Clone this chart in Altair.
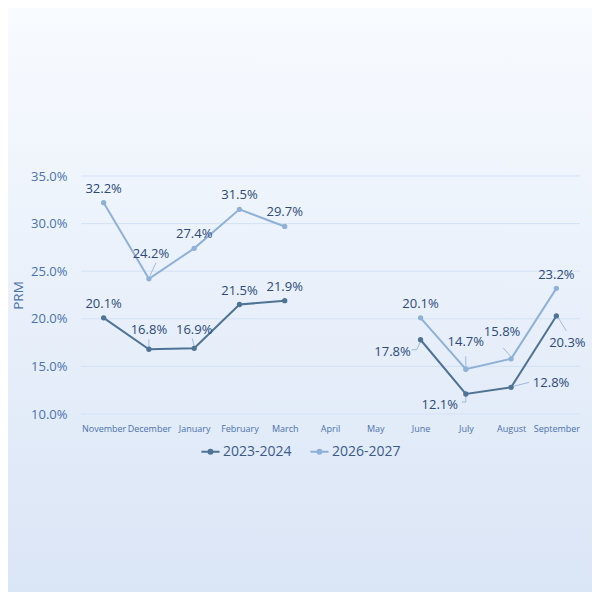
import altair as alt
import pandas as pd

months = ["November", "December", "January", "February", "March", "April",
          "May", "June", "July", "August", "September"]
series_names = ["2023-2024", "2026-2027"]
values_2023 = [20.1, 16.8, 16.9, 21.5, 21.9, None, None, 17.8, 12.1, 12.8, 20.3]
values_2026 = [32.2, 24.2, 27.4, 31.5, 29.7, None, None, 20.1, 14.7, 15.8, 23.2]
y_ticks = [10, 15, 20, 25, 30, 35]

# label placement (pixel offsets from the point)
label_dx_2023 = [0, 0, 0, 0, 0, 0, 0, -28, -26, 40, 11]
label_dy_2023 = [-14, -19, -18, -14, -14, 0, 0, 12, 11, -4, 27]
label_dx_2026 = [0, 2, 0, 0, 0, 0, 0, 0, 0, -9, 0]
label_dy_2026 = [-14, -25, -14, -14, -14, 0, 0, -14, -27, -27, -13]

# leader line segments: (series, month, x1, y1, x2, y2) pixel offsets from the point
leaders = [
    ("2026-2027", "December", 1, -3, 7, -16),
    ("2026-2027", "July", 0, -2, 0, -13),
    ("2026-2027", "August", 0, -2, -8, -11),
    ("2023-2024", "December", 0, -2, 0, -10),
    ("2023-2024", "January", 0, -2, -2, -10),
    ("2023-2024", "June", 0, 2, -4, 10),
    ("2023-2024", "June", -4, 10, -9, 10),
    ("2023-2024", "July", 0, 2, 0, 8),
    ("2023-2024", "July", 0, 8, -4, 8),
    ("2023-2024", "August", 2, -1, 18, -5),
    ("2023-2024", "September", 2, 2, 10, 15),
]

rows = []
for name, vals, dxs, dys in [(series_names[0], values_2023, label_dx_2023, label_dy_2023),
                             (series_names[1], values_2026, label_dx_2026, label_dy_2026)]:
    for i, (m, v) in enumerate(zip(months, vals)):
        if v is None:
            continue
        rows.append({"month": m, "series": name, "value": v,
                     "seg": name + ("a" if i < 5 else "b"),
                     "dx": dxs[i], "dy": dys[i],
                     "label": f"{v:.1f}%"})
df = pd.DataFrame(rows)

FONT = "Open Sans"
colors = ["#4f7394", "#8fb1d8"]
AXIS_COLOR = "#4a72b0"

W, H = 498, 238
PL, PT, PR, PB = 73, 168, 13, 178

bg = alt.Chart(pd.DataFrame({"a": [0]})).mark_rect(
    fill=alt.Gradient(gradient="linear", x1=0, y1=0, x2=0, y2=1,
                      stops=[alt.GradientStop(color="#f8fbff", offset=0),
                             alt.GradientStop(color="#dae5f6", offset=1)]),
    clip=False,
).encode(x=alt.value(-PL), x2=alt.value(W + PR), y=alt.value(-PT), y2=alt.value(H + PB))

xscale = alt.Scale(type="point", domain=months, padding=0.5)
yscale = alt.Scale(domain=[10, 35], nice=False, zero=False)

xaxis = alt.Axis(title=None, labelAngle=0, labelFontSize=9, labelColor=AXIS_COLOR,
                 labelFont=FONT, ticks=False, domain=False, labelPadding=10, grid=False,
                 zindex=1)
yaxis = alt.Axis(title="PRM", values=y_ticks,
                 labelExpr="format(datum.value, '.1f') + '%'",
                 labelFontSize=13, labelColor=AXIS_COLOR, labelFont=FONT,
                 titleFont=FONT, titleFontSize=13.5, titleColor=AXIS_COLOR,
                 titleFontWeight="normal", titlePadding=5,
                 ticks=False, domain=False, grid=False, labelPadding=14, zindex=1)
xenc = alt.X("month:N", sort=months, scale=xscale, axis=xaxis)
yenc = alt.Y("value:Q", scale=yscale, axis=yaxis)

grid = alt.Chart(pd.DataFrame({"value": y_ticks})).mark_rule(color="#d3e1f5", strokeWidth=1).encode(
    y=yenc, x=alt.value(0), x2=alt.value(W + 1))

color = alt.Color("series:N", scale=alt.Scale(domain=series_names, range=colors),
                  legend=alt.Legend(title=None, orient="none", direction="horizontal",
                                    legendX=119, legendY=265,
                                    labelFont=FONT, labelFontSize=14, labelColor="#3a5a8a",
                                    symbolType="M-1,0L1,0M-0.22,0A0.22,0.22 0 1,1 0.22,0A0.22,0.22 0 1,1 -0.22,0",
                                    symbolStrokeWidth=2, symbolSize=330, labelOffset=2,
                                    columnPadding=14))

base = alt.Chart(df)
lines = base.mark_line(strokeWidth=2).encode(x=xenc, y=yenc, color=color, detail="seg:N")
points = base.mark_circle(size=28, opacity=1).encode(
    x=xenc, y=yenc,
    color=alt.Color("series:N", scale=alt.Scale(domain=series_names, range=colors), legend=None))

leader_layers = []
for s, m, x1, y1, x2, y2 in leaders:
    leader_layers.append(
        base.transform_filter(f"datum.series == '{s}' && datum.month == '{m}'")
        .mark_rule(color="#9dbbe0", strokeWidth=1, xOffset=x1, yOffset=y1,
                   x2Offset=x2, y2Offset=y2)
        .encode(x=xenc, x2="month:N", y=yenc, y2="value:Q"))

label_layers = []
pairs = sorted(set(zip(df["dx"], df["dy"])))
for dx, dy in pairs:
    label_layers.append(
        base.transform_filter(f"datum.dx == {dx} && datum.dy == {dy}")
        .mark_text(fontSize=13, font=FONT, color="#2b4a7a", dx=int(dx), dy=int(dy))
        .encode(x=xenc, y=yenc, text="label:N"))

chart = alt.layer(bg, grid, *leader_layers, lines, points, *label_layers).properties(
    width=W, height=H,
    padding={"left": PL, "top": PT, "right": PR, "bottom": PB},
    autosize=alt.AutoSizeParams(type="none"),
    background="#f4f8fe",
).configure_view(stroke=None)

chart.save("out.html", embed_options={"renderer": "svg", "actions": False})
